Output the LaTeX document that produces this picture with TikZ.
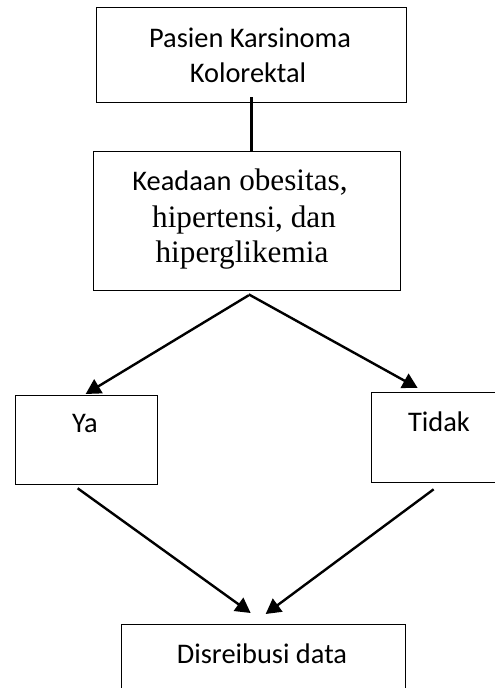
\documentclass[tikz,border=0pt]{standalone}
\usepackage{fontspec}
\setmainfont{Liberation Serif}
\newfontfamily\calib{Carlito}
\usetikzlibrary{arrows.meta}
\begin{document}
\begin{tikzpicture}[x=1pt,y=1pt,
  box/.style={draw=black, line width=1.3pt, rectangle, inner sep=0pt, anchor=north west},
  cal/.style={anchor=base, inner sep=0pt, font=\calib\fontsize{28.4}{35}\selectfont},
  ser/.style={anchor=base, inner sep=0pt, font=\fontsize{31.2}{36}\selectfont},
  conn/.style={line width=2.4pt},
  arr/.style={line width=2.4pt, -{Triangle[length=15pt,width=16pt]}}]
\useasboundingbox (0,0) rectangle (495,-688);
\clip (0,0) rectangle (495,-688);
% boxes
\node[box, minimum width=310pt, minimum height=95pt] (b1) at (96,-7) {};
\node[box, minimum width=307pt, minimum height=139pt] (b2) at (93,-151) {};
\node[box, minimum width=142pt, minimum height=89pt] (ya) at (15,-395) {};
\node[box, minimum width=142pt, minimum height=90pt] (tidak) at (371,-392) {};
\node[box, minimum width=284pt, minimum height=90pt] (dis) at (121,-624) {};
% texts
\node[cal] (t1a) at (250,-47) {Pasien Karsinoma};
\node[cal] (t1b) at (248,-82) {Kolorektal};
\node[ser] (t2a) at (240,-190) {{\calib\fontsize{28.4}{35}\selectfont Keadaan} obesitas,};
\node[ser] (t2b) at (244,-227) {hipertensi, dan};
\node[ser] (t2c) at (242,-262) {hiperglikemia};
\node[cal] (tya) at (85,-432) {Ya};
\node[cal] (ttidak) at (439,-431) {Tidak};
\node[cal] (tdis) at (262,-663) {Disreibusi data};
% connectors
\draw[conn] ([yshift=6pt]b1.south) -- (b1.south |- b2.north);
\draw[arr] ([shift={(1.5pt,-4pt)}]b2.south) -- ([shift={(-1pt,1pt)}]ya.north);
\draw[arr] ([shift={(1.5pt,-3pt)}]b2.south) -- ([shift={(-25pt,4pt)}]tidak.north);
\draw[arr] ([shift={(-9pt,-3pt)}]ya.south) -- ([shift={(-13pt,11pt)}]dis.north);
\draw[arr] ([shift={(-9pt,-6pt)}]tidak.south) -- ([shift={(2pt,10pt)}]dis.north);
\end{tikzpicture}
\end{document}
